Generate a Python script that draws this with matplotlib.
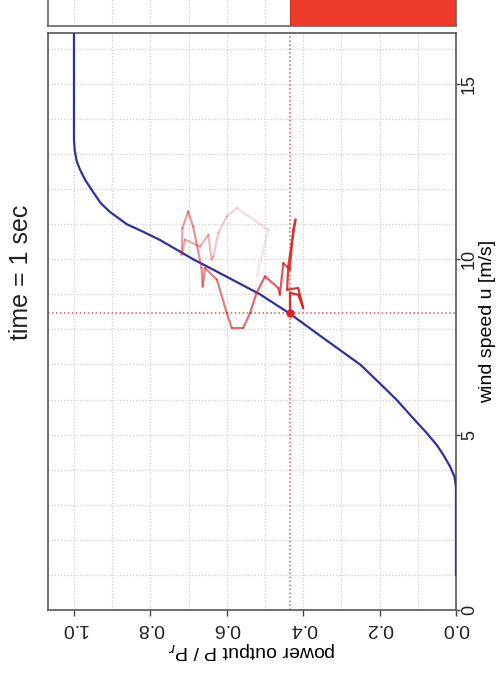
import numpy as np
import matplotlib
matplotlib.use("Agg")
import matplotlib.pyplot as plt
from matplotlib.collections import LineCollection

plt.rcParams['font.family'] = ['Liberation Sans', 'DejaVu Sans']

# Turbine power curve: wind speed [m/s] vs normalised power P/Pr
curve_wind = [1.0, 2.0, 3.0, 3.5, 3.8, 4.1, 4.4, 4.7, 5.05, 5.5, 6.0, 6.5, 7.0,
              7.75, 8.45, 9.0, 9.5, 10.0, 10.55, 10.8, 11.0, 11.2, 11.35, 11.6,
              11.9, 12.25, 12.55, 12.8, 13.1, 13.4, 14.0, 15.0, 16.45]
curve_power = [0.0, 0.0, 0.0, 0.0, 0.004, 0.016, 0.032, 0.05, 0.077, 0.115,
               0.156, 0.203, 0.251, 0.347, 0.435, 0.513, 0.600, 0.688, 0.775,
               0.822, 0.862, 0.887, 0.906, 0.930, 0.949, 0.970, 0.984, 0.993,
               0.998, 1.0, 1.0, 1.0, 1.0]

# Recent operating points (oldest first), ending at the current state
trail_wind = [9.51, 10.84, 11.46, 11.22, 10.75, 10.08, 9.99, 10.70, 10.36, 10.56,
              10.13, 10.89, 11.36, 10.93, 9.75, 9.22, 9.75, 9.42, 8.47, 8.04,
              8.04, 8.47, 9.04, 9.51, 9.18, 8.99, 9.89, 9.70, 10.84, 11.13,
              10.46, 9.80, 9.13, 9.18, 8.61, 8.99, 9.04, 8.47]
trail_power = [0.522, 0.491, 0.574, 0.600, 0.622, 0.635, 0.640, 0.648, 0.670, 0.709,
               0.718, 0.716, 0.701, 0.688, 0.666, 0.663, 0.657, 0.626, 0.600, 0.587,
               0.557, 0.539, 0.522, 0.500, 0.465, 0.461, 0.452, 0.435, 0.426, 0.420,
               0.430, 0.439, 0.442, 0.413, 0.400, 0.413, 0.435, 0.435]

current_wind = 8.47
current_power = 0.435
time_sec = 1

power_ticks = [0.0, 0.2, 0.4, 0.6, 0.8, 1.0]
wind_ticks = [0, 5, 10, 15]

W, H = 498, 680
fig = plt.figure(figsize=(W / 100, H / 100), dpi=100)

x0, x1 = 48, 456
ax = fig.add_axes([x0 / W, (H - 610) / H, (x1 - x0) / W, (610 - 33) / H])
ax.set_xlim(1.068, 0.0)
ax.set_ylim(0.0, 16.45)

grid_kw = dict(color='#cfcfcf', linestyle=(0, (1, 1.5)), linewidth=0.9, zorder=0)
for p in np.arange(0.1, 1.05, 0.1):
    ax.axvline(p, **grid_kw)
for u in range(1, 17):
    ax.axhline(u, **grid_kw)

ax.plot(curve_power, curve_wind, color='#30309e', linewidth=1.6, zorder=3,
        solid_joinstyle='round')

pts = np.column_stack([trail_power, trail_wind])
segs = np.stack([pts[:-1], pts[1:]], axis=1)
n = len(segs)
alphas = 0.12 + 0.88 * np.linspace(0.0, 1.0, n) ** 0.8
cols = [(0.83, 0.16, 0.16, a) for a in alphas]
ax.add_collection(LineCollection(segs, colors=cols, linewidths=1.6, zorder=4,
                                 capstyle='round', joinstyle='round'))

dot_kw = dict(color='#d85a5a', linestyle=(0, (1, 1.6)), linewidth=1.1, zorder=2)
ax.axvline(current_power, **dot_kw)
ax.axhline(current_wind, **dot_kw)
ax.plot([current_power], [current_wind], 'o', color='#e02020', markersize=5, zorder=5)

ax.set_xticks(power_ticks)
ax.set_xticklabels([f"{v:.1f}" for v in power_ticks], rotation=180, fontsize=14)
ax.yaxis.tick_right()
ax.set_yticks(wind_ticks)
ax.set_yticklabels([str(v) for v in wind_ticks], rotation=90, va='center', fontsize=13)
ax.tick_params(axis='both', direction='out', length=4, width=1, colors='#444444',
               labelcolor='#222222', pad=3)
ax.tick_params(axis='y', length=3, pad=0.5)
ax.set_xlabel("power output P / P$_r$", rotation=180, fontsize=14, labelpad=2)
ax.set_ylabel("wind speed u [m/s]", rotation=90, fontsize=14, va='center', ha='center')
ax.yaxis.set_label_coords((488 - x0) / (x1 - x0), 0.5)
for s in ax.spines.values():
    s.set_color('#555555')
    s.set_linewidth(1.2)

# Current power shown as a filled bar
axb = fig.add_axes([x0 / W, (H - 26) / H, (x1 - x0) / W, 60 / H])
axb.set_xlim(1.068, 0.0)
axb.set_ylim(0, 1)
for p in np.arange(0.1, 1.05, 0.1):
    axb.axvline(p, **grid_kw)
axb.barh(0.5, current_power, left=0.0, height=1.0, color='#ee3b2b',
         edgecolor='#c83020', linewidth=0.8, zorder=2)
axb.set_xticks([])
axb.set_yticks([])
for s in axb.spines.values():
    s.set_color('#666666')
    s.set_linewidth(1.2)

fig.text(21 / W, 1 - 272 / H, f"time = {time_sec} sec", rotation=90,
         ha='center', va='center', fontsize=18, color='#222222')

fig.savefig("out.png", dpi=100)
